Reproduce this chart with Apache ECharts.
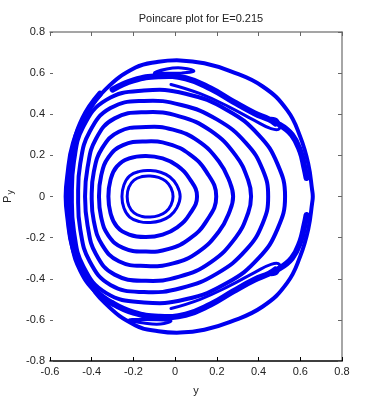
<!DOCTYPE html>
<html lang="en">
    <head>
        <meta charset="UTF-8">
        <title>Poincare plot</title>
        <script src="https://cdn.jsdelivr.net/npm/echarts@6/dist/echarts.min.js"></script>
        <style type="text/css">
            html, body { margin: 0; padding: 0; background: #fff; }
            #main { width: 378px; height: 411px; }
        </style>
    </head>
    <body>
        <div id="main"></div>
    </body>

    <script type="text/javascript">
        // 数据：各条闭合曲线 (y, Py)
        var innerA = [[-0.23,0],[-0.222,0.045],[-0.197,0.08],[-0.158,0.097],[-0.12,0.1],[-0.08,0.093],[-0.045,0.075],[-0.02,0.042],[-0.01,0],[-0.02,-0.042],[-0.045,-0.075],[-0.08,-0.093],[-0.12,-0.1],[-0.158,-0.097],[-0.197,-0.08],[-0.222,-0.045]];
        var innerB = [[-0.255,0],[-0.246,0.055],[-0.218,0.1],[-0.17,0.122],[-0.12,0.126],[-0.07,0.118],[-0.025,0.095],[0.008,0.055],[0.024,0],[0.008,-0.055],[-0.025,-0.095],[-0.07,-0.118],[-0.12,-0.126],[-0.17,-0.122],[-0.218,-0.1],[-0.246,-0.055]];
        var loop3 = [[-0.32,0],[-0.31,0.08],[-0.28,0.145],[-0.22,0.185],[-0.14,0.197],[-0.06,0.185],[0.01,0.15],[0.07,0.085],[0.105,0],[0.07,-0.085],[0.01,-0.15],[-0.06,-0.185],[-0.14,-0.197],[-0.22,-0.185],[-0.28,-0.145],[-0.31,-0.08]];
        var loop4 = [[-0.365,0],[-0.355,0.1],[-0.32,0.19],[-0.25,0.25],[-0.14,0.268],[-0.03,0.255],[0.07,0.205],[0.15,0.12],[0.197,0],[0.15,-0.12],[0.07,-0.205],[-0.03,-0.255],[-0.14,-0.268],[-0.25,-0.25],[-0.32,-0.19],[-0.355,-0.1]];
        var loop5 = [[-0.40,0],[-0.39,0.12],[-0.35,0.235],[-0.27,0.315],[-0.14,0.338],[-0.01,0.325],[0.11,0.27],[0.21,0.17],[0.262,0.07],[0.278,0],[0.262,-0.07],[0.21,-0.17],[0.11,-0.27],[-0.01,-0.325],[-0.14,-0.338],[-0.27,-0.315],[-0.35,-0.235],[-0.39,-0.12]];
        var loop6 = [[-0.432,0],[-0.42,0.14],[-0.38,0.28],[-0.29,0.38],[-0.14,0.41],[0.02,0.39],[0.17,0.32],[0.29,0.2],[0.35,0.08],[0.364,0],[0.35,-0.08],[0.29,-0.2],[0.17,-0.32],[0.02,-0.39],[-0.14,-0.41],[-0.29,-0.38],[-0.38,-0.28],[-0.42,-0.14]];
        var loop7 = [[-0.465,0],[-0.455,0.16],[-0.41,0.315],[-0.31,0.43],[-0.15,0.465],[0.03,0.445],[0.2,0.375],[0.34,0.26],[0.42,0.13],[0.446,0],[0.42,-0.13],[0.34,-0.26],[0.2,-0.375],[0.03,-0.445],[-0.15,-0.465],[-0.31,-0.43],[-0.41,-0.315],[-0.455,-0.16]];
        var loop8 = [[-0.495,0],[-0.485,0.17],[-0.44,0.34],[-0.33,0.47],[-0.15,0.515],[0.05,0.5],[0.25,0.42],[0.4,0.3],[0.49,0.16],[0.527,0],[0.49,-0.16],[0.4,-0.3],[0.25,-0.42],[0.05,-0.5],[-0.15,-0.515],[-0.33,-0.47],[-0.44,-0.34],[-0.485,-0.17]];
        var boundary = [[-0.525,0],[-0.518,0.095],[-0.49,0.26],[-0.43,0.39],[-0.335,0.52],[-0.19,0.627],[-0.08,0.655],[0.024,0.662],[0.14,0.648],[0.264,0.61],[0.42,0.535],[0.537,0.42],[0.6,0.29],[0.638,0.16],[0.657,0.03],[0.66,0],[0.657,-0.03],[0.638,-0.16],[0.6,-0.29],[0.537,-0.42],[0.42,-0.535],[0.264,-0.61],[0.14,-0.648],[0.024,-0.662],[-0.08,-0.655],[-0.19,-0.627],[-0.335,-0.52],[-0.43,-0.39],[-0.49,-0.26],[-0.518,-0.095]];

        // 混沌层与岛链 (开口曲线)
        var chaosLeft = [[-0.36,0.5],[-0.44,0.38],[-0.49,0.22],[-0.51,0.05],[-0.508,-0.1],[-0.49,-0.24],[-0.45,-0.36],[-0.38,-0.46],[-0.3,-0.52]];
        var chaosTop = [[-0.3,0.52],[-0.2,0.565],[-0.08,0.585],[0.05,0.575],[0.17,0.525],[0.28,0.46],[0.38,0.405],[0.45,0.375],[0.48,0.355]];
        var chaosBottom = [[-0.3,-0.52],[-0.2,-0.565],[-0.08,-0.585],[0.05,-0.575],[0.17,-0.525],[0.28,-0.46],[0.38,-0.405],[0.45,-0.375],[0.48,-0.355]];
        var islandTop = [[-0.02,0.545],[0.12,0.5],[0.26,0.435],[0.38,0.37],[0.46,0.33],[0.5,0.33],[0.49,0.37],[0.46,0.38]];
        var islandBottom = [[-0.02,-0.545],[0.12,-0.5],[0.26,-0.435],[0.38,-0.37],[0.46,-0.33],[0.5,-0.33],[0.49,-0.37],[0.46,-0.38]];
        var chaosRightTop = [[0.5,0.35],[0.56,0.3],[0.6,0.22],[0.62,0.14],[0.63,0.09]];
        var chaosRightBottom = [[0.5,-0.35],[0.56,-0.3],[0.6,-0.22],[0.62,-0.14],[0.63,-0.09]];
        // 小岛 (闭合)
        var eyeTop = [[-0.1,0.6],[-0.04,0.62],[0.03,0.625],[0.09,0.61],[0.03,0.6],[-0.04,0.6]];
        var eyeBottom = [[-0.22,-0.6],[-0.15,-0.615],[-0.07,-0.62],[-0.02,-0.605],[-0.08,-0.6],[-0.15,-0.598]];

        var xTicks = [-0.6, 0.8, 0.2];   // min, max, interval
        var yTicks = [-0.8, 0.8, 0.2];

        var blue = '#0000f0';
        // 用 custom 系列画平滑曲线，坐标全部经 api.coord 换算
        function curve(d, w, closed) {
            return {
                type: 'custom',
                data: d,
                silent: true,
                clip: true,
                animation: false,
                renderItem: function (params, api) {
                    if (params.dataIndex !== 0) return null;
                    var pts = [];
                    for (var i = 0; i < d.length; i++) {
                        pts.push(api.coord(d[i]));
                    }
                    return {
                        type: closed ? 'polygon' : 'polyline',
                        shape: { points: pts, smooth: 0.45 },
                        style: { fill: null, stroke: blue, lineWidth: w, lineJoin: 'round', lineCap: 'round' }
                    };
                }
            };
        }

        var myChart = echarts.init(document.getElementById('main'));
        myChart.setOption({
            animation: false,
            textStyle: { fontFamily: 'Liberation Sans, Arial, sans-serif' },
            title: {
                text: 'Poincare plot for E=0.215',
                left: 196,
                textAlign: 'center',
                top: 8,
                textStyle: { fontSize: 11, fontWeight: 'normal', color: '#222' }
            },
            grid: { left: 50, top: 32, right: 36, bottom: 50, outerBoundsMode: 'none' },
            xAxis: [{
                type: 'value', position: 'bottom',
                min: xTicks[0], max: xTicks[1], interval: xTicks[2],
                name: 'y', nameLocation: 'middle', nameGap: 24,
                nameTextStyle: { fontSize: 11, color: '#222' },
                axisLine: { onZero: false, lineStyle: { color: '#000', width: 1.5 } },
                axisTick: { inside: true, length: 4, lineStyle: { color: '#000' } },
                axisLabel: { fontSize: 11, color: '#222', margin: 5 },
                splitLine: { show: false }
            }, {
                type: 'value', position: 'top',
                min: xTicks[0], max: xTicks[1], interval: xTicks[2],
                axisLine: { onZero: false, lineStyle: { color: '#888', width: 1.5 } },
                axisTick: { inside: true, length: 4, lineStyle: { color: '#666' } },
                axisLabel: { show: false },
                splitLine: { show: false }
            }],
            yAxis: [{
                type: 'value', position: 'left',
                min: yTicks[0], max: yTicks[1], interval: yTicks[2],
                name: '{a|P}{s|y}', nameLocation: 'middle', nameGap: 33, nameRotate: 90,
                nameTextStyle: {
                    color: '#222',
                    rich: {
                        a: { fontSize: 11, color: '#222' },
                        s: { fontSize: 9, color: '#222', padding: [6, 0, 0, 1] }
                    }
                },
                axisLine: { show: false, onZero: false },
                axisTick: { inside: true, length: 3, lineStyle: { color: '#666' } },
                axisLabel: { fontSize: 11, color: '#222', margin: 5 },
                splitLine: { show: false }
            }, {
                type: 'value', position: 'right',
                min: yTicks[0], max: yTicks[1], interval: yTicks[2],
                axisLine: { onZero: false, lineStyle: { color: '#888', width: 1.5 } },
                axisTick: { inside: true, length: 4, lineStyle: { color: '#666' } },
                axisLabel: { show: false },
                splitLine: { show: false }
            }],
            series: [
                curve(boundary, 4, true),
                curve(chaosLeft, 6),
                curve(chaosTop, 6),
                curve(chaosBottom, 6),
                curve(islandTop, 3),
                curve(islandBottom, 3),
                curve(chaosRightTop, 6),
                curve(chaosRightBottom, 6),
                curve(eyeTop, 3, true),
                curve(eyeBottom, 3, true),
                curve(loop8, 4, true),
                curve(loop7, 4, true),
                curve(loop6, 4, true),
                curve(loop5, 4, true),
                curve(loop4, 4, true),
                curve(loop3, 4, true),
                curve(innerB, 3, true),
                curve(innerA, 3, true)
            ]
        });
    </script>
</html>
